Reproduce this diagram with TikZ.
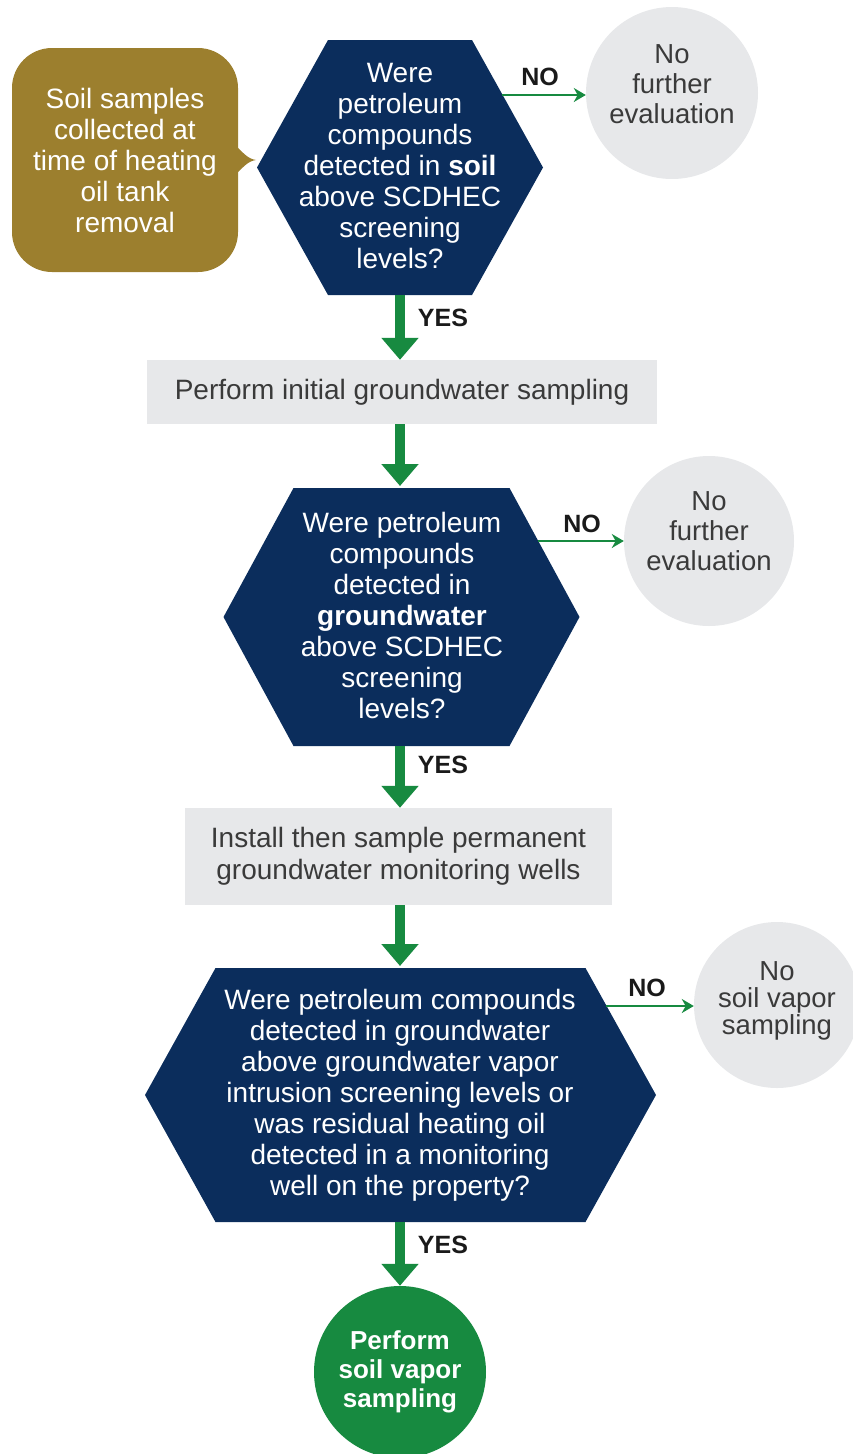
\documentclass[tikz,border=0pt]{standalone}
\usepackage{fontspec}
\setmainfont{Liberation Sans}
\usetikzlibrary{arrows.meta}
\definecolor{navyc}{HTML}{0B2D5C}
\definecolor{brownc}{HTML}{9C7F2E}
\definecolor{greenc}{HTML}{178A40}
\definecolor{greyc}{HTML}{E7E8EA}
\definecolor{textgrey}{HTML}{3A3A3A}
\definecolor{labelc}{HTML}{1A1A1A}
\newcommand\hexshape[5]{\fill[navyc] ({#1-#3},{#2-#5}) -- ({#1+#3},{#2-#5}) -- ({#1+#4},{#2}) -- ({#1+#3},{#2+#5}) -- ({#1-#3},{#2+#5}) -- ({#1-#4},{#2}) -- cycle;}
\begin{document}
\begin{tikzpicture}[x=1pt,y=-1pt,
  hextext/.style={text=white, align=center, inner sep=0pt, font=\fontsize{28}{31}\selectfont},
  greybox/.style={rectangle, fill=greyc, text=textgrey, align=center, inner sep=0pt, font=\fontsize{28}{32}\selectfont},
  endcircle/.style={circle, fill=greyc, inner sep=0pt},
  circletext/.style={text=textgrey, align=center, inner sep=0pt, font=\fontsize{27.5}{30}\selectfont},
  bubble/.style={rectangle, rounded corners=40pt, fill=brownc, text=white, align=center, inner sep=0pt, minimum width=226pt, minimum height=224pt, font=\fontsize{28}{31}\selectfont},
  goalcircle/.style={circle, fill=greenc, text=white, align=center, inner sep=0pt, minimum size=172pt, font=\bfseries\fontsize{26}{29}\selectfont},
  yesarrow/.style={draw=greenc, line width=10pt, -{Triangle[width=36pt,length=22pt]}},
  noarrow/.style={draw=greenc, line width=2pt, -{Stealth[width=14pt,length=12pt]}},
  lbl/.style={font=\bfseries\fontsize{25}{25}\selectfont, text=labelc, inner sep=0pt},
]
\useasboundingbox (0,0) rectangle (853,1454);

% source bubble
\node[bubble] (soil) at (125,160) {Soil samples\\collected at\\time of heating\\oil tank\\removal};
\fill[brownc] ([xshift=-4pt,yshift=16pt]soil.east) .. controls ([xshift=6pt,yshift=6pt]soil.east) and ([xshift=10pt,yshift=1pt]soil.east) .. ([xshift=18pt]soil.east)
  .. controls ([xshift=10pt,yshift=-1pt]soil.east) and ([xshift=6pt,yshift=-6pt]soil.east) .. ([xshift=-4pt,yshift=-16pt]soil.east) -- cycle;

% hexagons
\hexshape{400}{167.5}{72}{143}{127.5}
\hexshape{401.5}{617}{108}{178}{129}
\hexshape{400.5}{1095}{185}{255.5}{127}

\node[hextext] (h1) at (400,166) {Were\\petroleum\\compounds\\detected in \textbf{soil}\\above SCDHEC\\screening\\levels?};
\node[hextext] (h2) at (402,615) {Were petroleum\\compounds\\detected in\\\textbf{groundwater}\\above SCDHEC\\screening\\levels?};
\node[hextext] (h3) at (400,1095) {Were petroleum compounds\\detected in groundwater\\above groundwater vapor\\intrusion screening levels or\\was residual heating oil\\detected in a monitoring\\well on the property?};

\coordinate (h1bot) at (400,295);
\coordinate (h1no) at (502,95);
\coordinate (h2top) at (400,486);
\coordinate (h2bot) at (400,746);
\coordinate (h2no) at (538,541);
\coordinate (h3top) at (400,966);
\coordinate (h3bot) at (400,1222);
\coordinate (h3no) at (606,1006);

% boxes
\node[greybox, minimum width=510pt, minimum height=64pt] (box1) at (402,392) {Perform initial groundwater sampling};
\node[greybox, minimum width=427pt, minimum height=97pt] (box2) at (398.5,856.5) {Install then sample permanent\\groundwater monitoring wells};

% end circles
\node[endcircle, minimum size=172pt] (c1) at (672,93) {};
\node[circletext] (c1t) at ([yshift=9pt]c1.center) {No\\further\\evaluation};
\node[endcircle, minimum size=170pt] (c2) at (709,541) {};
\node[circletext] (c2t) at ([yshift=10pt]c2.center) {No\\further\\evaluation};
\node[endcircle, minimum size=166pt] (c3) at (777,1005) {};
\node[circletext, font=\fontsize{27.5}{27}\selectfont] (c3t) at ([yshift=4pt]c3.center) {No\\soil vapor\\sampling};
\node[goalcircle] (goal) at (400,1372) {Perform\\soil vapor\\sampling};

% connectors
\draw[noarrow] (h1no) -- (h1no -| c1.west);
\draw[noarrow] (h2no) -- (h2no -| c2.west);
\draw[noarrow] (h3no) -- (h3no -| c3.west);
\draw[yesarrow] (h1bot) -- (h1bot |- box1.north);
\draw[yesarrow] (h1bot |- box1.south) -- (h2top);
\draw[yesarrow] (h2bot) -- (h2bot |- box2.north);
\draw[yesarrow] (h2bot |- box2.south) -- (h3top);
\draw[yesarrow] (h3bot) -- (goal.north);

% labels
\node[lbl] (no1) at (540,77) {NO};
\node[lbl] (no2) at (582,524) {NO};
\node[lbl] (no3) at (647,988) {NO};
\node[lbl] (yes1) at (443,318) {YES};
\node[lbl] (yes2) at (443,765) {YES};
\node[lbl] (yes3) at (443,1245) {YES};
\end{tikzpicture}
\end{document}
